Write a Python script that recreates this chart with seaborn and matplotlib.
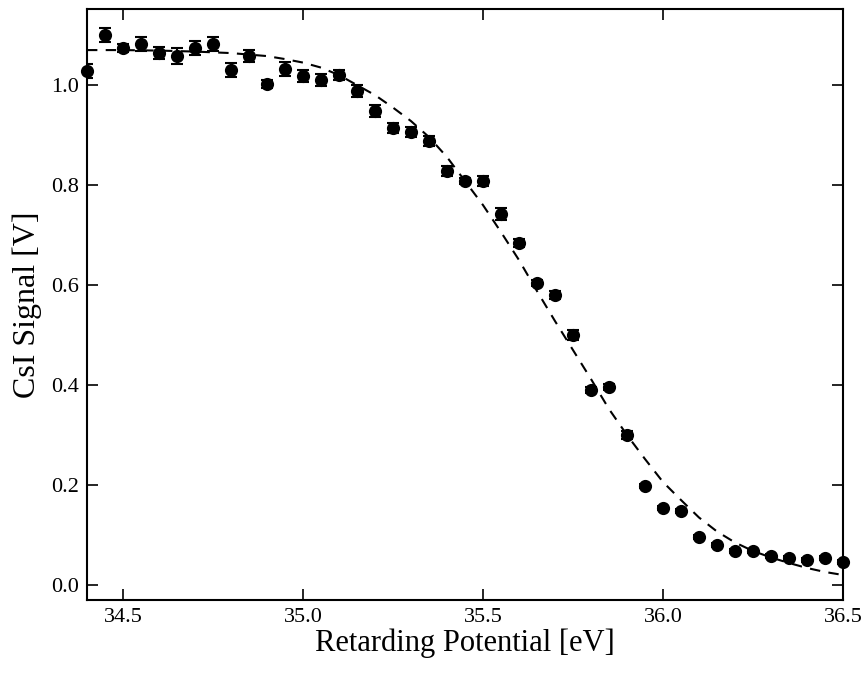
import numpy as np
import pandas as pd
import matplotlib
matplotlib.use("Agg")
import matplotlib.pyplot as plt
import seaborn as sns

# Measured data
potential = [34.40, 34.45, 34.50, 34.55, 34.60, 34.65, 34.70, 34.75, 34.80, 34.85,
             34.90, 34.95, 35.00, 35.05, 35.10, 35.15, 35.20, 35.25, 35.30, 35.35,
             35.40, 35.45, 35.50, 35.55, 35.60, 35.65, 35.70, 35.75, 35.80, 35.85,
             35.90, 35.95, 36.00, 36.05, 36.10, 36.15, 36.20, 36.25, 36.30, 36.35,
             36.40, 36.45, 36.50]
signal = [1.028, 1.100, 1.074, 1.082, 1.064, 1.058, 1.074, 1.082, 1.030, 1.058,
          1.002, 1.032, 1.018, 1.010, 1.020, 0.988, 0.948, 0.914, 0.906, 0.888,
          0.828, 0.808, 0.808, 0.742, 0.684, 0.604, 0.580, 0.500, 0.390, 0.396,
          0.300, 0.198, 0.154, 0.148, 0.096, 0.080, 0.068, 0.068, 0.058, 0.054,
          0.050, 0.054, 0.046]
signal_err = [0.014, 0.014, 0.008, 0.014, 0.012, 0.016, 0.014, 0.014, 0.014, 0.012,
              0.008, 0.014, 0.012, 0.012, 0.010, 0.012, 0.012, 0.010, 0.010, 0.010,
              0.010, 0.006, 0.010, 0.012, 0.008, 0.006, 0.008, 0.010, 0.006, 0.006,
              0.008, 0.004, 0.004, 0.004, 0.004, 0.004, 0.004, 0.004, 0.004, 0.004,
              0.004, 0.004, 0.004]

# Fitted curve
fit_x = [34.40, 34.50, 34.60, 34.70, 34.80, 34.90, 34.95, 35.00, 35.05, 35.10,
         35.15, 35.20, 35.25, 35.30, 35.35, 35.40, 35.45, 35.50, 35.55, 35.60,
         35.65, 35.70, 35.75, 35.80, 35.85, 35.90, 35.95, 36.00, 36.05, 36.10,
         36.15, 36.20, 36.25, 36.30, 36.35, 36.40, 36.45, 36.50]
fit_y = [1.070, 1.070, 1.069, 1.067, 1.064, 1.058, 1.052, 1.045, 1.035, 1.020,
         1.000, 0.980, 0.955, 0.928, 0.896, 0.856, 0.808, 0.760, 0.706, 0.650,
         0.588, 0.528, 0.470, 0.412, 0.352, 0.300, 0.252, 0.206, 0.170, 0.135,
         0.107, 0.085, 0.068, 0.055, 0.044, 0.034, 0.026, 0.020]

x_ticks = [34.5, 35.0, 35.5, 36.0, 36.5]
y_ticks = [0.0, 0.2, 0.4, 0.6, 0.8, 1.0]

sns.set_style("ticks")
plt.rcParams['font.family'] = ['Liberation Serif', 'DejaVu Serif']

fig = plt.figure(figsize=(8.67, 6.73), dpi=100)
ax = fig.add_axes([0.1003, 0.1085, 0.872, 0.878])

df = pd.DataFrame({"x": potential, "y": signal, "e": signal_err})
fit = pd.DataFrame({"x": fit_x, "y": fit_y})

sns.lineplot(data=fit, x="x", y="y", ax=ax, color="black", linewidth=1.5,
             linestyle=(0, (5, 4)), zorder=2)
ax.errorbar(df["x"], df["y"], yerr=df["e"], fmt="none", ecolor="black",
            elinewidth=1.5, capsize=4.5, capthick=1.5, zorder=3)
sns.scatterplot(data=df, x="x", y="y", ax=ax, color="black", s=90,
                edgecolor="black", linewidth=0, zorder=4, clip_on=False)

ax.set_xlim(34.4, 36.5)
ax.set_ylim(-0.03, 1.152)
ax.set_xticks(x_ticks)
ax.set_xticklabels([f"{v:.1f}" for v in x_ticks])
ax.set_yticks(y_ticks)
ax.set_yticklabels([f"{v:.1f}" for v in y_ticks])
ax.tick_params(direction="in", length=8, width=1.2, labelsize=16,
               top=True, right=True, colors="black", labelcolor="black", pad=6)
for s in ax.spines.values():
    s.set_linewidth(1.5)
    s.set_color("black")
    s.set_visible(True)

ax.set_xlabel("Retarding Potential [eV]", fontsize=22, labelpad=1, color="black")
ax.set_ylabel("CsI Signal [V]", fontsize=23, labelpad=6, color="black")

fig.savefig("out.png", dpi=100)
